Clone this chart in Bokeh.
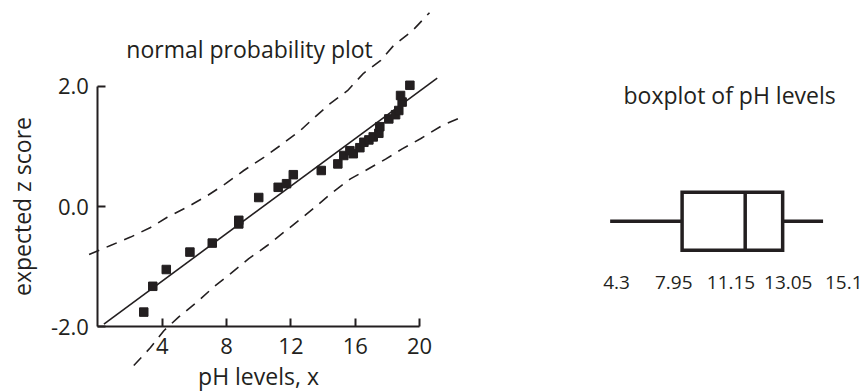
from bokeh.plotting import figure
from bokeh.models import Range1d, FixedTicker, PrintfTickFormatter, Label, LinearAxis
from bokeh.layouts import row
from bokeh.embed import file_html
from bokeh.resources import INLINE

INK = "#231f20"
FONT = "Open Sans"

# ---- normal probability plot data ----
ph_x = [2.85, 3.41, 4.25, 5.72, 7.11, 8.76, 8.76, 10.00, 11.21, 11.73, 12.15,
        13.89, 14.92, 15.29, 15.67, 15.88, 16.29, 16.54, 16.85, 17.12, 17.47,
        17.53, 18.09, 18.51, 18.71, 18.92, 18.82, 19.40]
z_score = [-1.76, -1.33, -1.05, -0.76, -0.61, -0.29, -0.23, 0.15, 0.32, 0.38, 0.53,
           0.60, 0.71, 0.85, 0.93, 0.88, 0.98, 1.07, 1.11, 1.16, 1.22,
           1.33, 1.46, 1.53, 1.60, 1.74, 1.85, 2.02]

fit_x = [0.37, 21.10]
fit_z = [-1.96, 2.14]

upper_x = [-0.55, 0.78, 2.03, 3.27, 4.31, 5.55, 6.80, 7.94, 9.07, 10.32, 11.36,
           12.60, 13.41, 14.46, 15.52, 16.52, 17.57, 18.38, 19.56, 20.62]
upper_z = [-0.80, -0.65, -0.51, -0.35, -0.18, -0.01, 0.18, 0.38, 0.60, 0.82, 1.02,
           1.27, 1.47, 1.72, 1.93, 2.22, 2.43, 2.68, 2.93, 3.23]

lower_x = [2.23, 3.27, 4.10, 5.03, 6.17, 7.21, 8.25, 9.38, 10.53, 11.56, 12.60,
           13.64, 14.47, 15.70, 16.64, 17.89, 18.92, 20.06, 21.41, 22.70]
lower_z = [-2.65, -2.35, -2.07, -1.84, -1.59, -1.34, -1.12, -0.87, -0.65, -0.43, -0.21,
           0.02, 0.21, 0.46, 0.60, 0.79, 0.96, 1.13, 1.35, 1.50]

x_ticks = [4, 8, 12, 16, 20]
z_ticks = [-2, 0, 2]

# ---- boxplot data ----
box_vals = [4.3, 7.95, 11.15, 13.05, 15.1]   # min, Q1, median, Q3, max
box_labels = ["4.3", "7.95", "11.15", "13.05", "15.1"]
ph_min, ph_q1, ph_med, ph_q3, ph_max = box_vals

# ---------------- left: normal probability plot ----------------
p = figure(width=488, height=391, x_range=Range1d(-6.06, 24.29),
           y_range=Range1d(-3.083, 3.433), output_backend="svg",
           toolbar_location=None, min_border=0)
p.outline_line_color = None
p.grid.visible = False

p.line(upper_x, upper_z, line_color=INK, line_width=1.6, line_dash="11 8")
p.line(lower_x, lower_z, line_color=INK, line_width=1.6, line_dash="11 8")
p.line(fit_x, fit_z, line_color=INK, line_width=1.6)
p.scatter(ph_x, z_score, marker="square", size=8.5, fill_color=INK, line_color=INK)

xa = p.xaxis[0]
xa.fixed_location = -2
xa.bounds = (0, 20)
xa.ticker = FixedTicker(ticks=x_ticks)
ya = p.yaxis[0]
ya.fixed_location = 0
ya.bounds = (-2, 2)
ya.ticker = FixedTicker(ticks=z_ticks)
ya.formatter = PrintfTickFormatter(format="%.1f")
for ax in (xa, ya):
    ax.axis_line_color = INK
    ax.axis_line_width = 2
    ax.major_tick_line_color = INK
    ax.major_tick_line_width = 2
    ax.major_tick_in = 8
    ax.major_tick_out = 0
    ax.minor_tick_line_color = None
    ax.major_label_text_font = FONT
    ax.major_label_text_font_size = "22px"
    ax.major_label_text_color = INK
    ax.axis_label_text_font = FONT
    ax.axis_label_text_font_size = "23px"
    ax.axis_label_text_font_style = "normal"
    ax.axis_label_text_color = INK
xa.axis_label = "pH levels, x"
xa.major_label_standoff = 11
xa.axis_label_standoff = 3
ya.axis_label = "expected z score"
ya.major_label_standoff = 9
ya.axis_label_standoff = 9

p.add_layout(Label(x=9.43, y=2.63, text="normal probability plot",
                   text_font=FONT, text_font_size="23px", text_color=INK,
                   text_align="center", text_baseline="middle"))

# ---------------- right: boxplot ----------------
q = figure(width=374, height=391, x_range=Range1d(-1.87, 17.10),
           y_range=Range1d(-2.936, 3.805), output_backend="svg",
           toolbar_location=None, min_border=0)
q.outline_line_color = None
q.grid.visible = False
q.yaxis.visible = False
q.xaxis.visible = False

q.segment(x0=[ph_min, ph_q3], y0=[0, 0], x1=[ph_q1, ph_max], y1=[0, 0],
          line_color=INK, line_width=3.5)
q.hbar(y=[0], left=[ph_q1], right=[ph_q3], height=1, fill_color="white",
       line_color=INK, line_width=3.5, line_join="miter")
q.segment(x0=[ph_med], y0=[-0.5], x1=[ph_med], y1=[0.5],
          line_color=INK, line_width=3.5)

# five-number labels, placed in order on their own evenly spaced axis
label_slots = list(range(len(box_labels)))
q.extra_x_ranges = {"labels": Range1d(-2.236, 4.297)}
qa = LinearAxis(x_range_name="labels", fixed_location=-0.5,
                ticker=FixedTicker(ticks=label_slots),
                major_label_overrides={i: s for i, s in zip(label_slots, box_labels)})
qa.axis_line_color = None
qa.major_tick_line_color = None
qa.minor_tick_line_color = None
qa.major_label_standoff = 20
qa.major_label_text_font = FONT
qa.major_label_text_font_size = "19px"
qa.major_label_text_color = INK
q.add_layout(qa, "below")

q.add_layout(Label(x=10.36, y=2.17, text="boxplot of pH levels",
                   text_font=FONT, text_font_size="23px", text_color=INK,
                   text_align="center", text_baseline="middle"))

layout = row(p, q)
open("out.html", "w").write(file_html(layout, INLINE))
